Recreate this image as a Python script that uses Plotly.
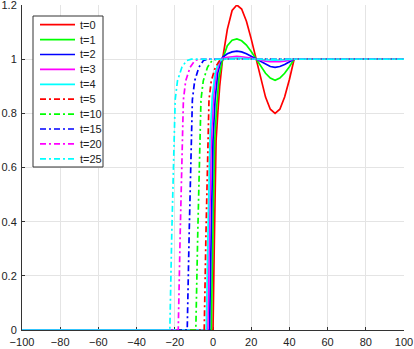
import plotly.graph_objects as go

# ── Data ──────────────────────────────────────────────────────────────────────
labels = ["t=0", "t=1", "t=2", "t=3", "t=4", "t=5", "t=10", "t=15", "t=20", "t=25"]
colors = ["#ff0000", "#00ff00", "#0000ff", "#ff00ff", "#00ffff"] * 2
dashes = ["solid"] * 5 + ["6px,3px,2px,3px"] * 5

osc_x = [5, 7.5, 10, 12.5, 15, 17.5, 20, 22.5, 25, 27.5, 30, 32.5, 35, 37.5, 40, 42.5, 100]

x_t0 = [-100, 0, 0.7, 1.6, 2.5, 3.5] + osc_x
y_t0 = [0, 0, 0.33, 0.70, 0.80, 0.90,
        1.0, 1.11, 1.18, 1.20, 1.185, 1.14, 1.075, 1.0, 0.925, 0.86, 0.815, 0.80,
        0.815, 0.86, 0.925, 1.0, 1.0]

x_t1 = [-100, -0.9, -0.1, 0.9, 1.9, 3.1] + osc_x
y_t1 = [0, 0, 0.33, 0.70, 0.82, 0.93,
        1.0, 1.05, 1.07, 1.075, 1.068, 1.052, 1.028, 1.0, 0.972, 0.948, 0.93, 0.922,
        0.93, 0.948, 0.972, 1.0, 1.0]

x_t2 = [-100, -1.8, -1.0, 0.0, 1.1, 2.5, 4.0] + osc_x
y_t2 = [0, 0, 0.33, 0.70, 0.85, 0.95, 0.99,
        1.007, 1.02, 1.027, 1.03, 1.027, 1.02, 1.01, 1.0, 0.99, 0.98, 0.973, 0.97,
        0.973, 0.98, 0.99, 1.0, 1.0]

x_t3 = [-100, -2.7, -1.9, -0.9, 0.3, 1.8, 3.5] + osc_x
y_t3 = [0, 0, 0.33, 0.70, 0.86, 0.95, 0.99,
        1.003, 1.007, 1.009, 1.01, 1.009, 1.007, 1.004, 1.0, 0.996, 0.993, 0.991, 0.99,
        0.991, 0.993, 0.996, 1.0, 1.0]

x_t4 = [-100, -3.5, -2.7, -1.6, -0.4, 1.2, 3.0, 5, 12.5, 22.5, 32.5, 42.5, 100]
y_t4 = [0, 0, 0.33, 0.70, 0.86, 0.95, 0.99, 1.0, 1.004, 1.0, 0.996, 1.0, 1.0]

front_y = [0, 0, 0.35, 0.70, 0.85, 0.92, 0.97, 0.995, 1.0, 1.0]
x_t5 = [-100, -4.6, -3.7, -2.7, -2.1, -0.9, 1.2, 3.5, 6.0, 100]
x_t10 = [-100, -9.0, -8.0, -6.9, -6.3, -5.1, -2.9, -0.5, 2.0, 100]
x_t15 = [-100, -13.5, -12.5, -11.5, -10.8, -9.6, -7.4, -5.0, -2.5, 100]
x_t20 = [-100, -18.2, -17.2, -16.2, -15.5, -14.3, -12.0, -9.5, -7.0, 100]
x_t25 = [-100, -22.6, -21.6, -20.4, -19.8, -18.6, -16.3, -13.8, -11.3, 100]

xs = [x_t0, x_t1, x_t2, x_t3, x_t4, x_t5, x_t10, x_t15, x_t20, x_t25]
ys = [y_t0, y_t1, y_t2, y_t3, y_t4] + [front_y] * 5

x_ticks = [-100, -80, -60, -40, -20, 0, 20, 40, 60, 80, 100]
y_ticks = [0, 0.2, 0.4, 0.6, 0.8, 1, 1.2]

# ── Figure ────────────────────────────────────────────────────────────────────
W, H = 414, 349
L, R, T, B = 22, 10, 5, 19
pw, ph = W - L - R, H - T - B

fig = go.Figure()
for x, y, lab, c, d in zip(xs, ys, labels, colors, dashes):
    fig.add_trace(go.Scatter(
        x=x, y=y, name=lab, mode="lines",
        line=dict(color=c, width=1.7, dash=d),
        showlegend=False,
    ))

axis_common = dict(
    showgrid=True, gridcolor="#e4e4e4", gridwidth=1,
    showline=True, linecolor="#333333", linewidth=1,
    ticks="inside", ticklen=3, tickcolor="#333333",
    zeroline=False, layer="below traces", automargin=False,
    ticklabeloverflow="allow",
    tickfont=dict(family="Liberation Sans, Arial, sans-serif", size=11, color="#222222"),
)
fig.update_xaxes(range=[-100, 100], tickvals=x_ticks, ticklabelstandoff=2, **axis_common)
fig.update_yaxes(range=[0, 1.2], tickvals=y_ticks, ticktext=[str(v) for v in y_ticks],
                 ticklabelstandoff=2, **axis_common)

# ── Legend drawn by hand (MATLAB-like compact spacing) ───────────────────────
def px(xp):
    return (xp - L) / pw

def py(yp):
    return (H - B - yp) / ph

shapes = [dict(type="rect", xref="paper", yref="paper",
               x0=px(33), x1=px(103), y0=py(167), y1=py(16),
               line=dict(color="#333333", width=1), fillcolor="white", layer="above")]
annotations = []
for i, (lab, c, d) in enumerate(zip(labels, colors, dashes)):
    yy = 24.7 + 14.9 * i
    shapes.append(dict(type="line", xref="paper", yref="paper",
                       x0=px(40), x1=px(75), y0=py(yy), y1=py(yy),
                       line=dict(color=c, width=1.7, dash=d), layer="above"))
    annotations.append(dict(xref="paper", yref="paper", x=px(78), y=py(yy),
                            text=lab, showarrow=False, xanchor="left", yanchor="middle",
                            font=dict(family="Liberation Sans, Arial, sans-serif",
                                      size=11, color="#222222")))

fig.update_layout(
    width=W, height=H,
    margin=dict(l=L, r=R, t=T, b=B),
    plot_bgcolor="white", paper_bgcolor="white",
    shapes=shapes, annotations=annotations,
    showlegend=False,
)

fig.write_html("out.html", config={"displayModeBar": False},
               post_script="document.body.style.margin='0';")
